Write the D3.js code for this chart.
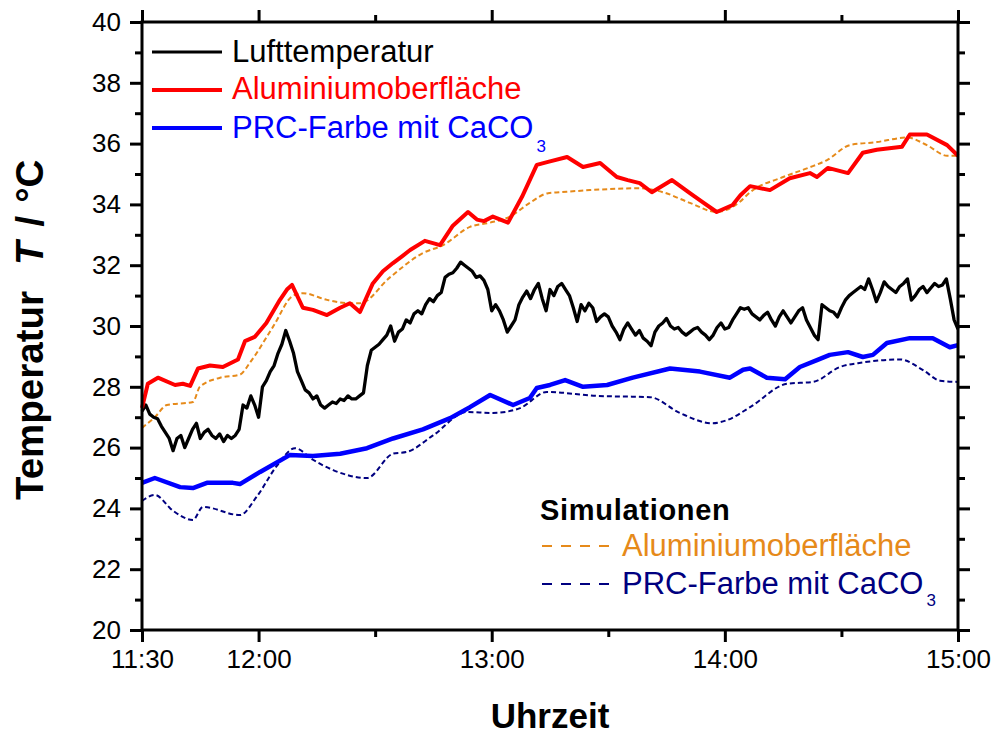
<!DOCTYPE html>
<html><head><meta charset="utf-8">
<script src="https://cdn.jsdelivr.net/npm/d3@7"></script>
<style>
html,body{margin:0;padding:0;background:#fff;}
svg{display:block;font-family:"Liberation Sans",Arial,sans-serif;}
</style></head>
<body><svg id="chart" width="996" height="734"></svg>
<script>
// ---------- data (minutes after 11:30, temperature °C) ----------
const xTickMinutes = [0, 30, 90, 150, 210];
const xTickLabels = ["11:30", "12:00", "13:00", "14:00", "15:00"];
const xMinorMinutes = [60, 120, 180];
const yTickValues = [20, 22, 24, 26, 28, 30, 32, 34, 36, 38, 40];
const yMinorValues = [21, 23, 25, 27, 29, 31, 33, 35, 37, 39];

// Lufttemperatur: one reading per minute from 11:30 (0) to 15:00 (210)
const airTemp = [
27.2,27.4,27.1,27.0,26.95,26.7,26.5,26.3,25.9,26.3,
26.4,26.0,26.3,26.6,26.8,26.3,26.5,26.6,26.4,26.3,
26.45,26.2,26.4,26.3,26.4,26.6,27.4,27.3,27.7,27.4,
27.0,28.0,28.2,28.5,28.7,29.1,29.4,29.85,29.5,29.1,
28.5,28.2,27.9,27.8,27.6,27.7,27.4,27.3,27.4,27.5,
27.45,27.6,27.55,27.7,27.6,27.6,27.7,27.8,28.7,29.2,
29.3,29.4,29.55,29.7,30.0,29.5,29.8,29.9,30.2,30.1,
30.4,30.5,30.4,30.7,30.9,30.8,31.0,31.1,31.6,31.7,
31.75,31.9,32.1,32.0,31.9,31.8,31.6,31.65,31.5,31.2,
30.5,30.7,30.5,30.2,29.8,30.0,30.2,30.7,30.95,31.15,
30.9,31.2,31.4,30.9,30.5,31.2,31.0,31.3,31.4,31.2,
31.0,30.6,30.15,30.7,30.5,30.75,30.6,30.15,30.3,30.4,
30.3,30.0,29.8,29.55,29.9,30.1,29.9,29.7,29.85,29.6,
29.5,29.35,29.8,30.0,30.1,30.25,30.0,29.9,29.95,29.8,
29.7,29.8,29.9,29.95,29.8,29.7,29.55,29.7,29.95,30.1,
29.9,29.95,30.2,30.4,30.6,30.55,30.6,30.4,30.3,30.2,
30.35,30.45,30.2,30.0,30.3,30.5,30.3,30.1,30.3,30.5,
30.6,30.2,29.95,29.7,29.55,30.7,30.6,30.5,30.45,30.3,
30.6,30.85,31.0,31.1,31.2,31.3,31.2,31.55,31.2,30.8,
31.1,31.45,31.3,31.2,31.1,31.3,31.4,31.55,30.85,31.0,
31.2,31.3,31.1,31.25,31.4,31.3,31.35,31.55,30.9,30.2,
29.9];

// Aluminiumoberfläche (measured)
const aluTime = [0,1.5,4.1,8.5,10.5,12.4,14.4,17.5,20.8,24.7,26.5,29,32,35.5,37.3,38.6,41.4,44,47.6,51,53.5,56.1,59.4,62,64.6,67,69,72.8,76.7,80,83.9,86.2,88,90.3,94.2,97.8,101.6,104.5,109.4,113.5,117.9,122.2,125,128.1,131.2,136.4,141,144,147.9,152,154,156.5,161.6,166.7,171.9,173.7,176.5,181.7,185.5,189.1,195.6,197.6,202,207.2,210];
const aluTemp = [27.3,28.1,28.3,28.06,28.1,28.03,28.6,28.7,28.65,28.9,29.5,29.64,30.1,30.86,31.2,31.35,30.6,30.53,30.36,30.6,30.75,30.46,31.4,31.8,32.07,32.3,32.5,32.8,32.66,33.3,33.75,33.5,33.45,33.6,33.4,34.25,35.3,35.4,35.56,35.23,35.36,34.9,34.8,34.7,34.4,34.8,34.37,34.1,33.75,33.98,34.3,34.6,34.47,34.86,35.03,34.9,35.2,35.03,35.7,35.8,35.9,36.3,36.3,35.95,35.6];

// PRC-Farbe mit CaCO3 (measured)
const prcTime = [0,3.3,9.8,13.1,16.7,23.4,25.2,30.4,38.1,44,51,57.9,64.6,72.3,79.3,84.4,89.6,95.5,99.8,101.6,105,108.9,113.5,119.7,126.3,135.9,143.6,151.3,154.7,156.5,160.8,165.5,169.3,173.7,177,181.7,185.5,188.1,191.7,197.6,203.5,207.9,210];
const prcTemp = [24.84,25.0,24.7,24.67,24.84,24.84,24.8,25.2,25.76,25.72,25.8,25.98,26.3,26.6,26.97,27.33,27.73,27.4,27.63,27.96,28.06,28.22,28.0,28.06,28.3,28.6,28.5,28.3,28.56,28.6,28.3,28.25,28.65,28.88,29.05,29.14,28.98,29.05,29.44,29.6,29.6,29.3,29.37];

// Simulation Aluminiumoberfläche
const simAluTime = [0,3.3,6.4,13.1,14.9,20.1,25.2,27.8,33.7,38.9,41.4,47.6,53.5,56.1,63.8,72.3,77.5,84.4,89.6,94.7,99.8,104.5,107.6,115.3,128.1,134.1,141,147.9,153.8,156.5,165,171.4,176.3,182.2,189.1,196.9,202,207.2,210];
const simAluTemp = [26.65,27.0,27.4,27.5,28.0,28.3,28.4,28.8,29.97,31.0,31.08,30.86,30.75,30.75,31.6,32.4,32.66,33.26,33.4,33.6,34.05,34.37,34.4,34.47,34.53,34.4,34.05,33.75,34.08,34.4,34.9,35.2,35.46,35.95,36.05,36.2,35.95,35.6,35.6];

// Simulation PRC-Farbe mit CaCO3
const simPrcTime = [0,3.3,8,13.1,15.7,25.2,29.6,34.7,39.4,44,49.2,57.9,64.6,68.2,74.9,83.6,90.3,97.3,104.2,117.1,130.7,138.4,146.7,150.5,156.5,166,172.7,179.6,185.5,195.1,201,205.4,210];
const simPrcTemp = [24.25,24.44,23.92,23.62,24.05,23.78,24.4,25.4,25.98,25.6,25.26,25.0,25.8,25.86,26.4,27.17,27.14,27.3,27.83,27.7,27.66,27.14,26.8,26.9,27.33,28.1,28.16,28.65,28.8,28.9,28.55,28.2,28.16];

// ---------- chart ----------
const svg = d3.select("#chart");
const L = 142, R = 958, T = 22, B = 630;
const x = d3.scaleLinear().domain([0, 210]).range([L, R]);
const y = d3.scaleLinear().domain([20, 40]).range([B, T]);
const FONT = '"Liberation Sans", Arial, sans-serif';

function zip(ts, vs) { return ts.map((t, i) => [t, vs[i]]); }
const airPts = airTemp.map((v, i) => [i, v]);

const lineLin = d3.line().x(d => x(d[0])).y(d => y(d[1]));
const lineSmooth = d3.line().x(d => x(d[0])).y(d => y(d[1])).curve(d3.curveMonotoneX);

const plot = svg.append("g");
plot.append("path").datum(zip(simAluTime, simAluTemp)).attr("d", lineSmooth)
  .attr("fill", "none").attr("stroke", "#e68a1a").attr("stroke-width", 2).attr("stroke-dasharray", "5,3");
plot.append("path").datum(zip(simPrcTime, simPrcTemp)).attr("d", lineSmooth)
  .attr("fill", "none").attr("stroke", "#000080").attr("stroke-width", 2).attr("stroke-dasharray", "5,3");
plot.append("path").datum(airPts).attr("d", lineLin)
  .attr("fill", "none").attr("stroke", "#000").attr("stroke-width", 3.3).attr("stroke-linejoin", "round");
plot.append("path").datum(zip(aluTime, aluTemp)).attr("d", lineLin)
  .attr("fill", "none").attr("stroke", "#ff0000").attr("stroke-width", 4).attr("stroke-linejoin", "round");
plot.append("path").datum(zip(prcTime, prcTemp)).attr("d", lineLin)
  .attr("fill", "none").attr("stroke", "#0000ff").attr("stroke-width", 4.5).attr("stroke-linejoin", "round");

// axes
function styleAxis(g) {
  g.select(".domain").remove();
  g.selectAll(".tick line").attr("stroke", "#000").attr("stroke-width", 3);
  g.selectAll(".tick text").attr("font-family", FONT).attr("font-size", 26).attr("fill", "#000");
}
svg.append("g").attr("transform", `translate(0,${B})`)
  .call(d3.axisBottom(x).tickValues(xTickMinutes).tickFormat((d, i) => xTickLabels[i]).tickSize(12).tickPadding(8))
  .call(styleAxis);
svg.append("g").attr("transform", `translate(0,${B})`)
  .call(d3.axisBottom(x).tickValues(xMinorMinutes).tickFormat("").tickSize(7)).call(styleAxis);
svg.append("g").attr("transform", `translate(0,${T})`)
  .call(d3.axisTop(x).tickValues(xTickMinutes).tickFormat("").tickSize(12)).call(styleAxis);
svg.append("g").attr("transform", `translate(0,${T})`)
  .call(d3.axisTop(x).tickValues(xMinorMinutes).tickFormat("").tickSize(7)).call(styleAxis);
svg.append("g").attr("transform", `translate(${L},0)`)
  .call(d3.axisLeft(y).tickValues(yTickValues).tickFormat(d3.format("d")).tickSize(12).tickPadding(9))
  .call(styleAxis);
svg.append("g").attr("transform", `translate(${L},0)`)
  .call(d3.axisLeft(y).tickValues(yMinorValues).tickFormat("").tickSize(7)).call(styleAxis);
svg.append("g").attr("transform", `translate(${R},0)`)
  .call(d3.axisRight(y).tickValues(yTickValues).tickFormat("").tickSize(12)).call(styleAxis);
svg.append("g").attr("transform", `translate(${R},0)`)
  .call(d3.axisRight(y).tickValues(yMinorValues).tickFormat("").tickSize(7)).call(styleAxis);

svg.append("rect").attr("x", L).attr("y", T).attr("width", R - L).attr("height", B - T)
  .attr("fill", "none").attr("stroke", "#000").attr("stroke-width", 3);

// axis titles
svg.append("text").attr("x", (L + R) / 2).attr("y", 728).attr("text-anchor", "middle")
  .attr("font-family", FONT).attr("font-size", 35).attr("font-weight", "bold").text("Uhrzeit");
const yt = svg.append("text").attr("transform", "translate(43,500) rotate(-90)").attr("text-anchor", "start")
  .attr("font-family", FONT).attr("font-size", 38.5).attr("font-weight", "bold");
yt.append("tspan").text("Temperatur");
yt.append("tspan").attr("dx", 26).attr("font-style", "italic").text("T");
yt.append("tspan").attr("dx", 15).text("/");
yt.append("tspan").attr("dx", 13).text("°C");

// legend (measured)
const legTop = [
  {label: "Lufttemperatur", color: "#000", w: 3, ly: 52, ty: 62},
  {label: "Aluminiumoberfläche", color: "#ff0000", w: 4, ly: 90, ty: 99},
  {label: "PRC-Farbe mit CaCO", sub: "3", color: "#0000ff", w: 4, ly: 128, ty: 138}
];
legTop.forEach(d => {
  svg.append("line").attr("x1", 152).attr("x2", 222).attr("y1", d.ly).attr("y2", d.ly)
    .attr("stroke", d.color).attr("stroke-width", d.w);
  const t = svg.append("text").attr("x", 232).attr("y", d.ty).attr("font-family", FONT)
    .attr("font-size", 31).attr("fill", d.color).text(d.label);
  if (d.sub) t.append("tspan").attr("dx", 3).attr("dy", 14).attr("font-size", 17).text(d.sub);
});

// legend (simulations)
svg.append("text").attr("x", 540).attr("y", 520).attr("font-family", FONT).attr("font-size", 29)
  .attr("font-weight", "bold").attr("letter-spacing", 0.7).attr("fill", "#000").text("Simulationen");
const legSim = [
  {label: "Aluminiumoberfläche", color: "#e68a1a", ly: 546, ty: 556},
  {label: "PRC-Farbe mit CaCO", sub: "3", color: "#000080", ly: 584, ty: 594}
];
legSim.forEach(d => {
  svg.append("line").attr("x1", 542).attr("x2", 614).attr("y1", d.ly).attr("y2", d.ly)
    .attr("stroke", d.color).attr("stroke-width", 2).attr("stroke-dasharray", "10,9");
  const t = svg.append("text").attr("x", 622).attr("y", d.ty).attr("font-family", FONT)
    .attr("font-size", 31).attr("fill", d.color).text(d.label);
  if (d.sub) t.append("tspan").attr("dx", 3).attr("dy", 12).attr("font-size", 17).text(d.sub);
});
</script></body></html>
